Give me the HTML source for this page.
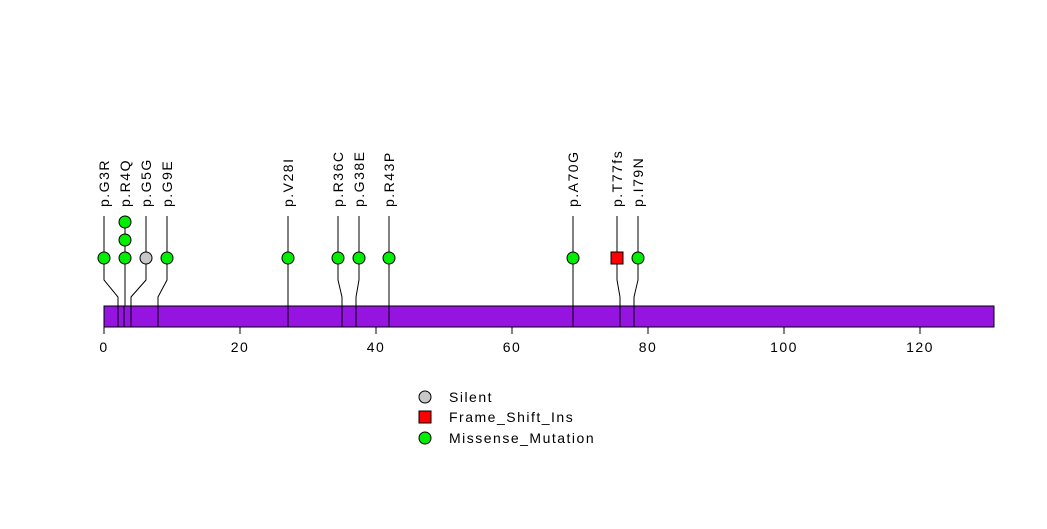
<!DOCTYPE html>
<html><head><style>body{margin:0;background:#fff}svg text{font-family:"Liberation Sans",sans-serif;font-size:14px;letter-spacing:1.5px}</style></head><body>
<svg width="1047" height="524" xmlns="http://www.w3.org/2000/svg">
<rect width="1047" height="524" fill="#fff"/>
<g stroke="#000" stroke-width="1" fill="none">
<path d="M104,216V280L118,297V327"/>
<path d="M125,216V327"/>
<path d="M146,216V280L131,297V327"/>
<path d="M167,216V280L158,297V327"/>
<path d="M288,216V327"/>
<path d="M338,216V280L342,297V327"/>
<path d="M359,216V280L356,297V327"/>
<path d="M389,216V327"/>
<path d="M573,216V327"/>
<path d="M617,216V280L620,297V327"/>
<path d="M638,216V280L634,297V327"/>
</g>
<rect x="104" y="306" width="890" height="21" fill="#9614e0" stroke="#000"/>
<g stroke="#000">
<path d="M118,306V327M124,306V327M131,306V327M158,306V327M288,306V327M342,306V327M356,306V327M389,306V327M573,306V327M620,306V327M634,306V327"/>
<path d="M104,327V334M240,327V334M376,327V334M512,327V334M648,327V334M784,327V334M920,327V334"/>
</g>
<g text-anchor="middle">
<text x="104" y="352">0</text><text x="240" y="352">20</text><text x="376" y="352">40</text><text x="512" y="352">60</text><text x="648" y="352">80</text><text x="784" y="352">100</text><text x="920" y="352">120</text>
</g>
<g stroke="#000" fill="#00ee00">
<circle cx="104" cy="258" r="6"/><circle cx="125" cy="258" r="6"/><circle cx="125" cy="240" r="6"/><circle cx="125" cy="222" r="6"/>
<circle cx="146" cy="258" r="6" fill="#c8c8c8"/><circle cx="167" cy="258" r="6"/><circle cx="288" cy="258" r="6"/>
<circle cx="338" cy="258" r="6"/><circle cx="359" cy="258" r="6"/><circle cx="389" cy="258" r="6"/><circle cx="573" cy="258" r="6"/>
<rect x="611" y="252" width="12" height="12" fill="#ff0000"/><circle cx="638" cy="258" r="6"/>
</g>
<g>
<text transform="translate(109,207) rotate(-90)">p.G3R</text>
<text transform="translate(130,207) rotate(-90)">p.R4Q</text>
<text transform="translate(151,207) rotate(-90)">p.G5G</text>
<text transform="translate(172,207) rotate(-90)">p.G9E</text>
<text transform="translate(293,207) rotate(-90)">p.V28I</text>
<text transform="translate(343,207) rotate(-90)">p.R36C</text>
<text transform="translate(364,207) rotate(-90)">p.G38E</text>
<text transform="translate(394,207) rotate(-90)">p.R43P</text>
<text transform="translate(578,207) rotate(-90)">p.A70G</text>
<text transform="translate(622,207) rotate(-90)">p.T77fs</text>
<text transform="translate(643,207) rotate(-90)">p.I79N</text>
</g>
<g stroke="#000">
<circle cx="425" cy="397" r="6" fill="#c8c8c8"/>
<rect x="419" y="411" width="12" height="12" fill="#ff0000"/>
<circle cx="425" cy="438" r="6" fill="#00ee00"/>
</g>
<text x="449" y="402">Silent</text>
<text x="449" y="422">Frame_Shift_Ins</text>
<text x="449" y="443">Missense_Mutation</text>
</svg>
</body></html>
